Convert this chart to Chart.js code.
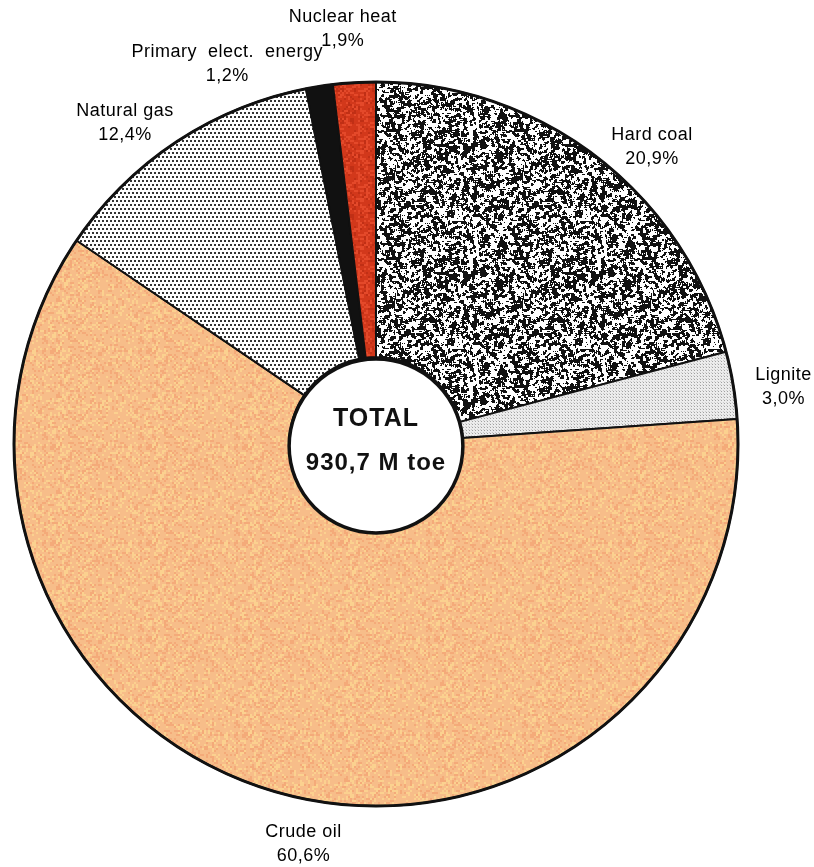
<!DOCTYPE html>
<html>
<head>
<meta charset="utf-8">
<script src="https://cdn.jsdelivr.net/npm/chart.js@4"></script>
<style>
  body { margin: 0; background: #fff; }
  canvas { display: block; }
</style>
</head>
<body>
<canvas id="energyChart" width="814" height="867"></canvas>
<script>
// parts of total primary energy, in %
const categories = ["Hard coal", "Lignite", "Crude oil", "Natural gas", "Primary  elect.  energy", "Nuclear heat"];
const shares = [20.9, 3.0, 60.6, 12.4, 1.2, 1.9];
const totalMtoe = 930.7;
const totalLabel = "TOTAL";

// small deterministic hash for the print textures (murmur finaliser)
function hash(x, y, s) {
  let h = Math.imul(x | 0, 73856093) ^ Math.imul(y | 0, 19349663) ^ Math.imul(s, 83492791);
  h ^= h >>> 16; h = Math.imul(h, 0x85ebca6b);
  h ^= h >>> 13; h = Math.imul(h, 0xc2b2ae35);
  h ^= h >>> 16;
  return (h >>> 0) / 4294967295;
}

function makePattern(size, paint) {
  const c = document.createElement("canvas");
  c.width = size; c.height = size;
  const g = c.getContext("2d");
  paint(g, size);
  return g.createPattern(c, "repeat");
}

function noiseTile(cell, seed, pick) {
  return (g, size) => {
    for (let y = 0; y < size; y += cell) {
      for (let x = 0; x < size; x += cell) {
        g.fillStyle = pick(hash(x / cell, y / cell, seed));
        g.fillRect(x, y, cell, cell);
      }
    }
  };
}

// blobby black/white grain (box-blurred noise, thresholded)
function grainTile(g, size) {
  const raw = (x, y) => hash((x + size) % size, (y + size) % size, 5);
  for (let y = 0; y < size; y++) {
    for (let x = 0; x < size; x++) {
      let s = 0;
      for (let dy = -1; dy <= 1; dy++)
        for (let dx = -1; dx <= 1; dx++) s += raw(x + dx, y + dy);
      g.fillStyle = s / 9 < 0.5 ? "#111" : "#fff";
      g.fillRect(x, y, 1, 1);
    }
  }
}

const hardCoalFill = makePattern(128, grainTile);
const ligniteFill = makePattern(3, (g) => {
  g.fillStyle = "#ececec"; g.fillRect(0, 0, 3, 3);
  g.fillStyle = "#a0a0a0"; g.fillRect(1, 1, 1, 1);
  g.fillStyle = "#cccccc"; g.fillRect(0, 0, 1, 1);
});
const crudeFill = makePattern(96, noiseTile(2, 7, v => v < 0.2 ? "#fbd18f" : (v < 0.38 ? "#f4aa79" : "#f7bd89")));
const gasFill = makePattern(8, (g) => {
  g.fillStyle = "#fff"; g.fillRect(0, 0, 8, 8);
  g.fillStyle = "#333";
  g.fillRect(0, 0, 2, 2); g.fillRect(4, 0, 2, 2);
  g.fillRect(2, 4, 2, 2); g.fillRect(6, 4, 2, 2);
});
const nuclearFill = makePattern(48, noiseTile(2, 3, v => v < 0.25 ? "#e4492a" : (v < 0.45 ? "#c02f15" : "#d2381b")));

const fills = [hardCoalFill, ligniteFill, crudeFill, gasFill, "#111", nuclearFill];
// label shifts from the default radial spot
const labelNudge = [[27, 26], [5, 9], [34, 6], [-26, 19], [-85, 23], [-9, -8]];

const fmt = v => v.toFixed(1).replace(".", ",");

const decorations = {
  id: "decorations",
  afterDatasetsDraw(chart) {
    const ctx = chart.ctx;
    const arcs = chart.getDatasetMeta(0).data;
    const { x, y, outerRadius, innerRadius } = arcs[0].getProps(["x", "y", "outerRadius", "innerRadius"], true);
    ctx.save();
    // outer rim
    ctx.beginPath();
    ctx.arc(x, y, outerRadius, 0, Math.PI * 2);
    ctx.lineWidth = 3;
    ctx.strokeStyle = "#111";
    ctx.stroke();
    // centre disc
    ctx.beginPath();
    ctx.arc(x, y + 2, innerRadius, 0, Math.PI * 2);
    ctx.fillStyle = "#fff";
    ctx.fill();
    ctx.lineWidth = 3.5;
    ctx.stroke();

    ctx.fillStyle = "#111";
    ctx.textAlign = "center";
    ctx.textBaseline = "middle";
    ctx.letterSpacing = "1px";
    ctx.font = "bold 25px 'Liberation Sans', Arial, sans-serif";
    ctx.fillText(totalLabel, x, y - 25);
    ctx.font = "bold 24px 'Liberation Sans', Arial, sans-serif";
    ctx.fillText(fmt(totalMtoe) + " M toe", x, y + 19);

    // outside labels
    ctx.fillStyle = "#000";
    ctx.font = "18px 'Liberation Sans', Arial, sans-serif";
    ctx.letterSpacing = "0.5px";
    arcs.forEach((arc, i) => {
      const p = arc.getProps(["startAngle", "endAngle"], true);
      const mid = (p.startAngle + p.endAngle) / 2;
      const lx = x + Math.cos(mid) * (outerRadius + 46) + labelNudge[i][0];
      const ly = y + Math.sin(mid) * (outerRadius + 46) + labelNudge[i][1];
      ctx.fillText(categories[i], lx, ly - 12);
      ctx.fillText(fmt(shares[i]) + "%", lx, ly + 12);
    });
    ctx.restore();
  }
};

new Chart(document.getElementById("energyChart"), {
  type: "doughnut",
  data: {
    labels: categories,
    datasets: [{
      data: shares,
      backgroundColor: fills,
      borderColor: "#111",
      borderWidth: 2,
      hoverOffset: 0
    }]
  },
  options: {
    responsive: false,
    animation: false,
    cutout: "24%",
    layout: { padding: { left: 13, right: 75, top: 81, bottom: 60 } },
    plugins: { legend: { display: false }, tooltip: { enabled: false } }
  },
  plugins: [decorations]
});
</script>
</body>
</html>
